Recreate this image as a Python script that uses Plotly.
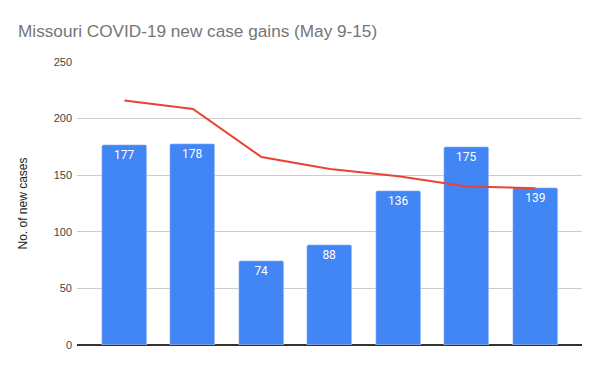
import plotly.graph_objects as go

categories = ["May 9", "May 10", "May 11", "May 12", "May 13", "May 14", "May 15"]
new_cases = [177, 178, 74, 88, 136, 175, 139]
trend = [216, 208.5, 166, 155.5, 149, 140, 138.5]
y_ticks = [0, 50, 100, 150, 200, 250]

x = list(range(len(categories)))

fig = go.Figure()
fig.add_trace(go.Bar(
    x=x, y=new_cases, marker=dict(color="#4285F4", cornerradius=2), width=0.657,
    text=[str(v) for v in new_cases], textposition="inside", insidetextanchor="end",
    textfont=dict(color="white", size=12, family="Roboto"), showlegend=False,
    textangle=0,
))
fig.add_trace(go.Scatter(
    x=x, y=trend, mode="lines", line=dict(color="#EA4335", width=2), showlegend=False,
))

fig.update_layout(
    width=600, height=371,
    margin=dict(l=77, r=18, t=62, b=26),
    plot_bgcolor="white", paper_bgcolor="white",
    font=dict(family="Liberation Sans, Arial", color="#444444"),
    title=dict(text="Missouri COVID-19 new case gains (May 9-15)", x=18/600, xanchor="left",
               xref="container", yref="container",
               y=1 - 31/371, yanchor="middle",
               font=dict(size=17.2, color="#757575", family="Liberation Sans, Arial")),
    bargap=0,
)
fig.update_xaxes(range=[-0.693, 6.679], showticklabels=False, showgrid=False,
                 zeroline=False, showline=False, ticks="", automargin=False)
fig.update_yaxes(range=[0, 250], tickvals=y_ticks, showgrid=True, gridcolor="#cccccc",
                 zeroline=True, zerolinecolor="#333333", zerolinewidth=1.5,
                 tickfont=dict(size=11, color="#444444"), ticks="", automargin=False,
                 ticklabelstandoff=4,
                 title=dict(text="No. of new cases", font=dict(size=12, color="#222222"), standoff=23))

fig.write_html("out.html", post_script="document.body.style.margin='0';",
               config={"displayModeBar": False})
